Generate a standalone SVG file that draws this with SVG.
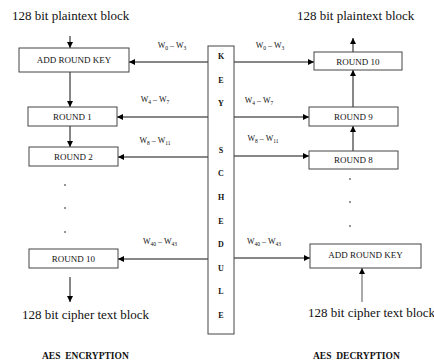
<svg xmlns="http://www.w3.org/2000/svg" width="434" height="363" viewBox="0 0 434 363">
<defs>
<marker id="ah" viewBox="0 0 10 10" refX="10" refY="5" markerWidth="6" markerHeight="6" markerUnits="userSpaceOnUse" orient="auto">
<path d="M0,0 L10,5 L0,10 z" fill="#000"/>
</marker>
<style>
text{font-family:'Liberation Serif','Times New Roman','DejaVu Serif',serif}
.box{fill:#fff;stroke:#444;stroke-width:1}
.ln{stroke:#111;stroke-width:1;fill:none;marker-end:url(#ah)}
.big{font-size:13px;fill:#111}
.lbl{font-size:9px;fill:#111;text-anchor:middle}
.w{font-size:8px;fill:#111;text-anchor:middle}
.k{font-size:8px;font-weight:bold;fill:#111;text-anchor:middle}
.ttl{font-size:9.5px;font-weight:bold;fill:#111;white-space:pre}
.dot{fill:#111}
</style>
</defs>
<rect width="434" height="363" fill="#fff"/>

<g id="connectors">
<line class="ln" x1="70" y1="36" x2="70" y2="48"/>
<line class="ln" x1="70" y1="72" x2="70" y2="107"/>
<line class="ln" x1="70" y1="126" x2="70" y2="147"/>
<line class="ln" x1="70" y1="277" x2="70" y2="302"/>
<line class="ln" x1="208" y1="62" x2="129" y2="62"/>
<line class="ln" x1="208" y1="117" x2="117" y2="117"/>
<line class="ln" x1="208" y1="157" x2="118" y2="157"/>
<line class="ln" x1="208" y1="259" x2="118" y2="259"/>
<line class="ln" x1="234" y1="62" x2="314" y2="62"/>
<line class="ln" x1="234" y1="117" x2="309" y2="117"/>
<line class="ln" x1="234" y1="156" x2="309" y2="156"/>
<line class="ln" x1="234" y1="258" x2="310" y2="258"/>
<line class="ln" x1="353" y1="52" x2="353" y2="38"/>
<line class="ln" x1="353" y1="107" x2="353" y2="70"/>
<line class="ln" x1="353" y1="151" x2="353" y2="126"/>
<line class="ln" x1="362" y1="302" x2="362" y2="268" style="stroke:#555"/>
</g>

<g id="labels-w">
<text class="w" x="172" y="48">W<tspan font-size="5.5" dy="1.5">0</tspan><tspan dy="-1.5"> – W</tspan><tspan font-size="5.5" dy="1.5">3</tspan></text>
<text class="w" x="155" y="102">W<tspan font-size="5.5" dy="1.5">4</tspan><tspan dy="-1.5"> – W</tspan><tspan font-size="5.5" dy="1.5">7</tspan></text>
<text class="w" x="155" y="143">W<tspan font-size="5.5" dy="1.5">8</tspan><tspan dy="-1.5"> – W</tspan><tspan font-size="5.5" dy="1.5">11</tspan></text>
<text class="w" x="160" y="244">W<tspan font-size="5.5" dy="1.5">40</tspan><tspan dy="-1.5"> – W</tspan><tspan font-size="5.5" dy="1.5">43</tspan></text>
<text class="w" x="270" y="48">W<tspan font-size="5.5" dy="1.5">0</tspan><tspan dy="-1.5"> – W</tspan><tspan font-size="5.5" dy="1.5">3</tspan></text>
<text class="w" x="259" y="103">W<tspan font-size="5.5" dy="1.5">4</tspan><tspan dy="-1.5"> – W</tspan><tspan font-size="5.5" dy="1.5">7</tspan></text>
<text class="w" x="263" y="141">W<tspan font-size="5.5" dy="1.5">8</tspan><tspan dy="-1.5"> – W</tspan><tspan font-size="5.5" dy="1.5">11</tspan></text>
<text class="w" x="264" y="244">W<tspan font-size="5.5" dy="1.5">40</tspan><tspan dy="-1.5"> – W</tspan><tspan font-size="5.5" dy="1.5">43</tspan></text>
</g>

<g id="key-schedule">
<rect class="box" x="208" y="46" width="26" height="288"/>
<text class="k" x="221" y="59">K</text>
<text class="k" x="221" y="83">E</text>
<text class="k" x="221" y="106">Y</text>
<text class="k" x="221" y="153">S</text>
<text class="k" x="221" y="176">C</text>
<text class="k" x="221" y="200">H</text>
<text class="k" x="221" y="224">E</text>
<text class="k" x="221" y="247">D</text>
<text class="k" x="221" y="271">U</text>
<text class="k" x="221" y="294">L</text>
<text class="k" x="221" y="318">E</text>
</g>

<g id="enc-input"><text class="big" x="12" y="20">128 bit plaintext block</text></g>
<g id="enc-ark"><rect class="box" x="19" y="48" width="110" height="24"/><text class="lbl" x="74" y="63">ADD ROUND KEY</text></g>
<g id="enc-r1"><rect class="box" x="28" y="107" width="89" height="19"/><text class="lbl" x="72.5" y="120">ROUND 1</text></g>
<g id="enc-r2"><rect class="box" x="29" y="147" width="89" height="19"/><text class="lbl" x="73.5" y="160">ROUND 2</text></g>
<g id="enc-dots"><circle class="dot" cx="65" cy="185" r="0.8"/><circle class="dot" cx="65" cy="208" r="0.8"/><circle class="dot" cx="65" cy="232" r="0.8"/></g>
<g id="enc-r10"><rect class="box" x="29" y="249" width="89" height="19"/><text class="lbl" x="73.5" y="262">ROUND 10</text></g>
<g id="enc-output"><text class="big" x="22" y="319">128 bit cipher text block</text></g>
<g id="enc-title"><text class="ttl" x="42" y="359">AES  ENCRYPTION</text></g>

<g id="dec-output"><text class="big" x="297" y="20">128 bit plaintext block</text></g>
<g id="dec-r10"><rect class="box" x="314" y="52" width="88" height="18"/><text class="lbl" x="358" y="64.5">ROUND 10</text></g>
<g id="dec-r9"><rect class="box" x="309" y="107" width="89" height="19"/><text class="lbl" x="353.5" y="120">ROUND 9</text></g>
<g id="dec-r8"><rect class="box" x="309" y="151" width="89" height="18"/><text class="lbl" x="353.5" y="163">ROUND 8</text></g>
<g id="dec-dots"><circle class="dot" cx="350" cy="179" r="0.8"/><circle class="dot" cx="350" cy="202" r="0.8"/><circle class="dot" cx="350" cy="226" r="0.8"/></g>
<g id="dec-ark"><rect class="box" x="310" y="244" width="111" height="24"/><text class="lbl" x="365.5" y="258">ADD ROUND KEY</text></g>
<g id="dec-input"><text class="big" x="308" y="317">128 bit cipher text block</text></g>
<g id="dec-title"><text class="ttl" x="313" y="359">AES  DECRYPTION</text></g>
</svg>
